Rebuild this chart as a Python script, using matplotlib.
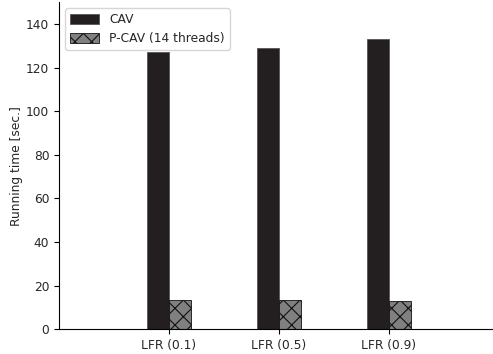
import numpy as np
import matplotlib
matplotlib.use("Agg")
import matplotlib.pyplot as plt

# running times per LFR setting
labels = ["LFR (0.1)", "LFR (0.5)", "LFR (0.9)"]
cav = [127.1, 128.8, 133.2]
pcav = [13.3, 13.3, 12.8]

plt.rcParams["font.size"] = 8.8
plt.rcParams["hatch.linewidth"] = 0.8
plt.rcParams["text.color"] = "#262626"
plt.rcParams["axes.labelcolor"] = "#262626"
plt.rcParams["xtick.labelcolor"] = "#262626"
plt.rcParams["ytick.labelcolor"] = "#262626"

fig = plt.figure(figsize=(4.93, 3.54), dpi=100)
ax = fig.add_axes([59 / 493, 1 - 329.3 / 354, (498.7 - 59) / 493, 327.1 / 354])

x = np.arange(len(labels))
w = 0.2
ax.bar(x - w / 2, cav, w, color="#231f20", edgecolor="#555555", linewidth=0.6, label="CAV")
ax.bar(x + w / 2, pcav, w, color="#808080", edgecolor="#111111", linewidth=0.6,
       hatch="xx", label="P-CAV (14 threads)")

ax.set_xticks(x)
ax.set_xticklabels(labels)
ax.set_xlim(-1, 3)
ax.set_ylim(0, 150)
ax.set_yticks(np.arange(0, 141, 20))
ax.set_ylabel("Running time [sec.]", labelpad=2)
ax.spines["top"].set_visible(False)
ax.spines["right"].set_visible(False)
ax.legend(loc="upper left", fontsize=8.8, handlelength=2.4, handleheight=0.9)

fig.savefig("out.png", dpi=100)
